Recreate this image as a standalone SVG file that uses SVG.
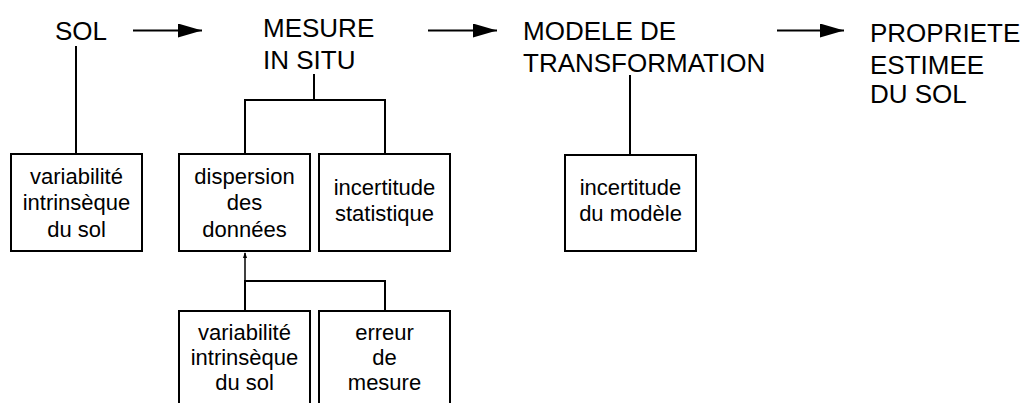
<svg xmlns="http://www.w3.org/2000/svg" width="1036" height="403" viewBox="0 0 1036 403">
<style>
.t{font-family:"Liberation Sans",Arial,sans-serif;font-size:26px;fill:#000}
.s{font-family:"Liberation Sans",Arial,sans-serif;font-size:22px;fill:#000;text-anchor:middle}
.b{fill:#fff;stroke:#000;stroke-width:2}
.c{fill:none;stroke:#000;stroke-width:2}
</style>
<defs>
<marker id="big" markerUnits="userSpaceOnUse" markerWidth="26" markerHeight="16" refX="24" refY="7" orient="auto"><path d="M0,0 L24,7 L0,14 Z" fill="#000"/></marker>
<marker id="small" markerUnits="userSpaceOnUse" markerWidth="6" markerHeight="8" refX="2" refY="0.5" orient="auto"><path d="M0,2 L2,0 L4,2" fill="none" stroke="#000" stroke-width="1"/></marker>
</defs>
<rect width="1036" height="403" fill="#fff"/>
<g id="connectors">
<line class="c" x1="133" y1="30.5" x2="202" y2="30.5" marker-end="url(#big)"/>
<line class="c" x1="428" y1="30.5" x2="497" y2="30.5" marker-end="url(#big)"/>
<line class="c" x1="777" y1="30.5" x2="844" y2="30.5" marker-end="url(#big)"/>
<line class="c" x1="76" y1="46" x2="76" y2="154"/>
<polyline class="c" points="314,74 314,100"/>
<polyline class="c" points="245,154 245,100 385,100 385,154"/>
<line class="c" x1="630" y1="75" x2="630" y2="155"/>
<polyline class="c" points="245,311 245,281 385,281 385,311"/>
<line x1="245" y1="281" x2="245" y2="253" stroke="#000" stroke-width="1.5"/>
<path d="M243,258 L245,252 L247,258 Z" fill="#000"/>
</g>
<g id="sol"><text class="t" x="55" y="40">SOL</text></g>
<g id="mesure"><text class="t" x="263" y="37">MESURE</text><text class="t" x="263" y="69">IN SITU</text></g>
<g id="modele"><text class="t" x="523" y="40">MODELE DE</text><text class="t" x="523" y="72">TRANSFORMATION</text></g>
<g id="propriete"><text class="t" x="870" y="42">PROPRIETE</text><text class="t" x="870" y="74">ESTIMEE</text><text class="t" x="870" y="103">DU SOL</text></g>
<g id="box-variabilite1"><rect class="b" x="11" y="154" width="131" height="97"/>
<text class="s" x="76.5" y="184">variabilité</text><text class="s" x="76.5" y="210">intrinsèque</text><text class="s" x="76.5" y="237">du sol</text></g>
<g id="box-dispersion"><rect class="b" x="179" y="154" width="131" height="97"/>
<text class="s" x="244.5" y="184">dispersion</text><text class="s" x="244.5" y="210">des</text><text class="s" x="244.5" y="237">données</text></g>
<g id="box-incertitude-stat"><rect class="b" x="319" y="154" width="131" height="97"/>
<text class="s" x="384.5" y="195">incertitude</text><text class="s" x="384.5" y="221">statistique</text></g>
<g id="box-incertitude-modele"><rect class="b" x="565" y="155" width="131" height="96"/>
<text class="s" x="630.5" y="195">incertitude</text><text class="s" x="630.5" y="221">du modèle</text></g>
<g id="box-variabilite2"><rect class="b" x="179" y="311" width="131" height="100"/>
<text class="s" x="244.5" y="340">variabilité</text><text class="s" x="244.5" y="365">intrinsèque</text><text class="s" x="244.5" y="390">du sol</text></g>
<g id="box-erreur"><rect class="b" x="319" y="311" width="131" height="100"/>
<text class="s" x="384.5" y="340">erreur</text><text class="s" x="384.5" y="365">de</text><text class="s" x="384.5" y="390">mesure</text></g>
</svg>
